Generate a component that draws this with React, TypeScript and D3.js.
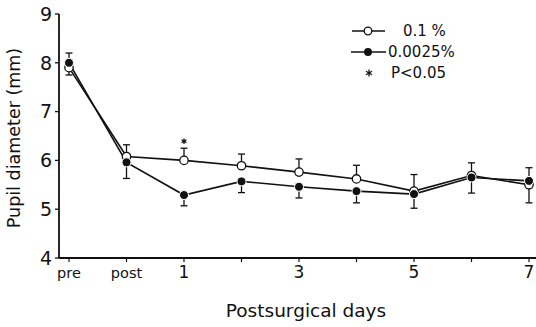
import React from "react";
import * as d3 from "d3";

const categories = ["pre", "post", "1", "2", "3", "4", "5", "6", "7"];
const xTickLabels = ["pre", "post", "1", "", "3", "", "5", "", "7"];
const yTicks = [4, 5, 6, 7, 8, 9];

const openMean = [7.9, 6.08, 6.0, 5.89, 5.76, 5.62, 5.37, 5.69, 5.5];
const openErr = [-0.15, 0.24, 0.25, 0.24, 0.27, 0.28, 0.34, -0.36, -0.37];
const filledMean = [8.0, 5.96, 5.29, 5.57, 5.46, 5.37, 5.31, 5.65, 5.58];
const filledErr = [0.2, -0.33, -0.22, -0.23, -0.23, -0.24, -0.29, 0.3, 0.27];
const significant = [false, false, true, false, false, false, false, false, false];

const W = 536;
const H = 327;
const FONT = "'DejaVu Sans', sans-serif";

export default function App() {
  const x = d3.scaleLinear().domain([0, categories.length - 1]).range([69, 529]);
  const y = d3.scaleLinear().domain([4, 9]).range([258, 14]);
  const line = d3
    .line<number>()
    .x((_, i) => x(i))
    .y((d) => y(d));

  const errBar = (mean: number[], err: number[], key: string) =>
    mean.map((m, i) => {
      const cx = x(i);
      const y0 = y(m);
      const y1 = y(m + err[i]);
      return (
        <g key={key + i} stroke="#111" strokeWidth={1.3}>
          <line x1={cx} x2={cx} y1={y0} y2={y1} />
          <line x1={cx - 3.5} x2={cx + 3.5} y1={y1} y2={y1} />
        </g>
      );
    });

  const star = (cx: number, cy: number, r: number, key: string) => (
    <g key={key} stroke="#111" strokeWidth={1.3}>
      {[0, 60, 120].map((a) => {
        const rad = (a * Math.PI) / 180;
        return (
          <line
            key={a}
            x1={cx - r * Math.sin(rad)}
            y1={cy - r * Math.cos(rad)}
            x2={cx + r * Math.sin(rad)}
            y2={cy + r * Math.cos(rad)}
          />
        );
      })}
    </g>
  );

  return (
    <svg
      width={W}
      height={H}
      style={{ position: "absolute", left: 0, top: 0, background: "#fff" }}
      fontFamily={FONT}
    >
      <rect width={W} height={H} fill="#fff" />
      {/* axes */}
      <line x1={59} x2={59} y1={y(9)} y2={y(4)} stroke="#111" strokeWidth={1.8} />
      <line x1={59} x2={536} y1={y(4)} y2={y(4)} stroke="#111" strokeWidth={1.8} />
      {yTicks.map((t) => (
        <g key={"yt" + t}>
          <line x1={55} x2={59} y1={y(t)} y2={y(t)} stroke="#111" strokeWidth={1.3} />
          <text x={52} y={y(t)} dy="0.36em" textAnchor="end" fontSize={19} fill="#111">
            {t}
          </text>
        </g>
      ))}
      {categories.map((c, i) => (
        <g key={"xt" + c}>
          <line x1={x(i)} x2={x(i)} y1={y(4)} y2={y(4) + 4} stroke="#111" strokeWidth={1.2} />
          {xTickLabels[i] && (
            <text x={x(i)} y={278} textAnchor="middle" fontSize={xTickLabels[i].length > 1 ? 14.5 : 17} fill="#111">
              {xTickLabels[i]}
            </text>
          )}
        </g>
      ))}
      <text
        transform={`translate(20,138) rotate(-90)`}
        textAnchor="middle"
        fontSize={17.5}
        fill="#111"
      >
        Pupil diameter (mm)
      </text>
      <text x={306} y={317} textAnchor="middle" fontSize={18.5} fill="#111">
        Postsurgical days
      </text>

      {/* error bars */}
      {errBar(openMean, openErr, "oe")}
      {errBar(filledMean, filledErr, "fe")}

      {/* lines */}
      <path d={line(openMean) || ""} fill="none" stroke="#111" strokeWidth={1.6} />
      <path d={line(filledMean) || ""} fill="none" stroke="#111" strokeWidth={1.6} />

      {/* markers */}
      {openMean.map((m, i) => (
        <circle key={"o" + i} cx={x(i)} cy={y(m)} r={4.2} fill="#fff" stroke="#111" strokeWidth={1.3} />
      ))}
      {filledMean.map((m, i) => (
        <circle key={"f" + i} cx={x(i)} cy={y(m)} r={4.5} fill="#111" stroke="#fff" strokeWidth={1} />
      ))}
      {significant.map((s, i) =>
        s ? star(x(i), y(openMean[i] + openErr[i]) - 7, 2.8, "s" + i) : null
      )}

      {/* legend */}
      <g>
        <line x1={352} x2={385} y1={31} y2={31} stroke="#111" strokeWidth={1.5} />
        <circle cx={368} cy={31} r={3.8} fill="#fff" stroke="#111" strokeWidth={1.3} />
        <text x={403} y={31} dy="0.35em" fontSize={15} fill="#111">0.1 %</text>
        <line x1={351} x2={386} y1={52} y2={52} stroke="#111" strokeWidth={1.5} />
        <circle cx={368} cy={52} r={4} fill="#111" />
        <text x={388} y={52} dy="0.35em" fontSize={15} fill="#111">0.0025%</text>
        {star(369, 73, 3.5, "ls")}
        <text x={391} y={73} dy="0.35em" fontSize={15} fill="#111">P&lt;0.05</text>
      </g>
    </svg>
  );
}
